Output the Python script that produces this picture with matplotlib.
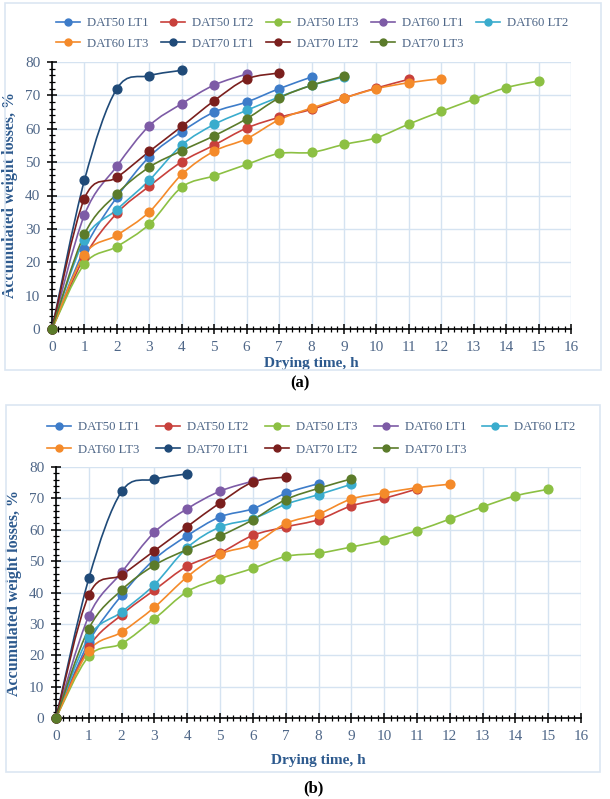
import numpy as np
import matplotlib
matplotlib.use("Agg")
import matplotlib.pyplot as plt
from matplotlib.path import Path
from matplotlib.patches import PathPatch, Rectangle
from matplotlib.lines import Line2D
from matplotlib.ticker import MultipleLocator

plt.rcParams['font.family'] = ['Liberation Serif', 'DejaVu Serif']

# Datos (perdida de peso acumulada, %) por hora de secado
SERIES_NAMES = ['DAT50 LT1', 'DAT50 LT2', 'DAT50 LT3', 'DAT60 LT1', 'DAT60 LT2',
                'DAT60 LT3', 'DAT70 LT1', 'DAT70 LT2', 'DAT70 LT3']

# panel (a)
A_DAT50_LT1 = [0, 24.0, 39.5, 51.6, 59.1, 65.0, 68.0, 72.0, 75.5]
A_DAT50_LT2 = [0, 21.6, 34.7, 42.8, 50.1, 55.1, 60.2, 63.4, 65.8, 69.2, 72.2, 74.8]
A_DAT50_LT3 = [0, 19.5, 24.7, 31.4, 42.5, 45.9, 49.3, 52.6, 52.9, 55.3, 57.3, 61.4, 65.2, 68.8, 72.3, 74.3]
A_DAT60_LT1 = [0, 34.2, 48.8, 60.9, 67.5, 73.1, 76.4]
A_DAT60_LT2 = [0, 26.8, 35.8, 44.6, 55.1, 61.3, 65.5, 69.5, 73.0, 75.5]
A_DAT60_LT3 = [0, 22.3, 28.1, 35.1, 46.3, 53.3, 57.0, 62.7, 66.2, 69.2, 72.0, 73.8, 75.0]
A_DAT70_LT1 = [0, 44.6, 72.0, 75.9, 77.5]
A_DAT70_LT2 = [0, 39.1, 45.4, 53.2, 60.7, 68.4, 74.9, 76.7]
A_DAT70_LT3 = [0, 28.4, 40.5, 48.5, 53.4, 57.9, 63.0, 69.2, 73.0, 75.8]

# panel (b)
B_DAT50_LT1 = [0, 24.2, 39.1, 50.6, 58.1, 64.1, 66.7, 71.6, 74.7]
B_DAT50_LT2 = [0, 22.6, 32.9, 40.8, 48.4, 52.6, 58.2, 60.9, 63.2, 67.6, 70.0, 73.0]
B_DAT50_LT3 = [0, 19.7, 23.7, 31.6, 40.3, 44.4, 47.7, 51.5, 52.5, 54.5, 56.7, 59.7, 63.4, 67.3, 70.8, 72.9]
B_DAT60_LT1 = [0, 32.5, 46.4, 59.2, 66.7, 72.3, 75.5]
B_DAT60_LT2 = [0, 25.8, 33.8, 42.5, 54.3, 60.9, 63.5, 68.1, 71.2, 74.5]
B_DAT60_LT3 = [0, 21.4, 27.4, 35.3, 45.0, 52.2, 55.3, 62.0, 65.0, 69.8, 71.7, 73.4, 74.5]
B_DAT70_LT1 = [0, 44.5, 72.2, 76.1, 77.8]
B_DAT70_LT2 = [0, 39.2, 45.6, 53.3, 61.0, 68.6, 75.2, 76.8]
B_DAT70_LT3 = [0, 28.5, 40.8, 48.7, 53.7, 58.0, 63.2, 69.6, 73.2, 76.2]

PANEL_A = [A_DAT50_LT1, A_DAT50_LT2, A_DAT50_LT3, A_DAT60_LT1, A_DAT60_LT2,
           A_DAT60_LT3, A_DAT70_LT1, A_DAT70_LT2, A_DAT70_LT3]
PANEL_B = [B_DAT50_LT1, B_DAT50_LT2, B_DAT50_LT3, B_DAT60_LT1, B_DAT60_LT2,
           B_DAT60_LT3, B_DAT70_LT1, B_DAT70_LT2, B_DAT70_LT3]

COLORES = ['#3d7cc9', '#c8403b', '#8cc043', '#7d5ba6', '#3aaccd',
           '#f48a2a', '#1f4a78', '#7a1f1d', '#5b7b2a']

TICK_COLOR = '#4f6788'
LABEL_COLOR = '#2d5a8e'
GRID_COLOR = '#d5e3f1'
BORDER_COLOR = '#dce6f2'


def curva_suave(x, y):
    # curva tipo Excel (Bezier con tension 1/6)
    pts = np.column_stack([x, y]).astype(float)
    n = len(pts)
    verts = [pts[0]]
    codes = [Path.MOVETO]
    for i in range(n - 1):
        p0 = pts[max(i - 1, 0)]
        p1 = pts[i]
        p2 = pts[i + 1]
        p3 = pts[min(i + 2, n - 1)]
        c1 = p1 + (p2 - p0) / 6
        c2 = p2 - (p3 - p1) / 6
        verts += [c1, c2, p2]
        codes += [Path.CURVE4] * 3
    return Path(verts, codes)


def dibujar_panel(fig, rect, datos, xpad):
    ax = fig.add_axes(rect)
    for valores, color in zip(datos, COLORES):
        horas = np.arange(len(valores))
        ax.add_patch(PathPatch(curva_suave(horas, valores), fill=False,
                               edgecolor=color, lw=1.2, zorder=3))
        ax.plot(horas, valores, 'o', color=color, ms=6.3, zorder=4, clip_on=False)
    ax.set_xlim(0, 16)
    ax.set_ylim(0, 80)
    ax.xaxis.set_major_locator(MultipleLocator(1))
    ax.xaxis.set_minor_locator(MultipleLocator(0.2))
    ax.yaxis.set_major_locator(MultipleLocator(10))
    ax.yaxis.set_minor_locator(MultipleLocator(2))
    ax.grid(True, which='major', color=GRID_COLOR, lw=1, zorder=0)
    ax.set_axisbelow(True)
    for lado in ['top', 'right']:
        ax.spines[lado].set_visible(False)
    for lado in ['left', 'bottom']:
        ax.spines[lado].set_color('black')
        ax.spines[lado].set_linewidth(1.2)
    ax.tick_params(which='major', direction='inout', length=7, width=1.1,
                   colors='black', labelcolor=TICK_COLOR, labelsize=11, pad=5)
    ax.tick_params(which='minor', direction='inout', length=5, width=0.9, colors='black')
    ax.set_xlabel('Drying time, h', fontsize=11, fontweight='bold', color=LABEL_COLOR,
                  labelpad=xpad)
    ax.set_ylabel('Accumulated weight losses, %', fontsize=11.5, fontweight='bold',
                  color=LABEL_COLOR, labelpad=5)
    return ax


def leyenda(fig, ancla, espacio, filas):
    handles = [Line2D([0], [0], color=c, lw=1.2, marker='o', ms=5) for c in COLORES]
    # la leyenda de Excel va por filas, matplotlib llena por columnas
    orden = [0, 5, 1, 6, 2, 7, 3, 8, 4]
    fig.legend([handles[i] for i in orden], [SERIES_NAMES[i] for i in orden],
               ncol=5, loc='upper left', bbox_to_anchor=ancla,
               frameon=False, fontsize=9.2, labelcolor=TICK_COLOR, handlelength=1.9,
               handletextpad=0.55, columnspacing=espacio, borderpad=0, borderaxespad=0,
               labelspacing=filas)


fig = plt.figure(figsize=(6.1, 7.99), dpi=100)
W, H = 610, 799

# marcos de cada panel
for (x0, y0, x1, y1) in [(5, 3, 601, 370), (6, 405, 600, 772)]:
    fig.patches.append(Rectangle((x0 / W, 1 - y1 / H), (x1 - x0) / W, (y1 - y0) / H,
                                 transform=fig.transFigure, fill=False,
                                 edgecolor=BORDER_COLOR, lw=1.2))

dibujar_panel(fig, [52 / W, 1 - 329 / H, 519 / W, 267 / H], PANEL_A, 2)
dibujar_panel(fig, [56 / W, 1 - 718 / H, 525 / W, 251 / H], PANEL_B, 8)

leyenda(fig, (56 / W, 1 - 17 / H), 0.95, 0.68)
leyenda(fig, (47 / W, 1 - 421 / H), 1.25, 0.85)

fig.text(300 / W, 1 - 383 / H, '(a)', ha='center', va='center', fontsize=12, fontweight='bold')
fig.text(313 / W, 1 - 788 / H, '(b)', ha='center', va='center', fontsize=12, fontweight='bold')

fig.savefig('out.png', dpi=100)
